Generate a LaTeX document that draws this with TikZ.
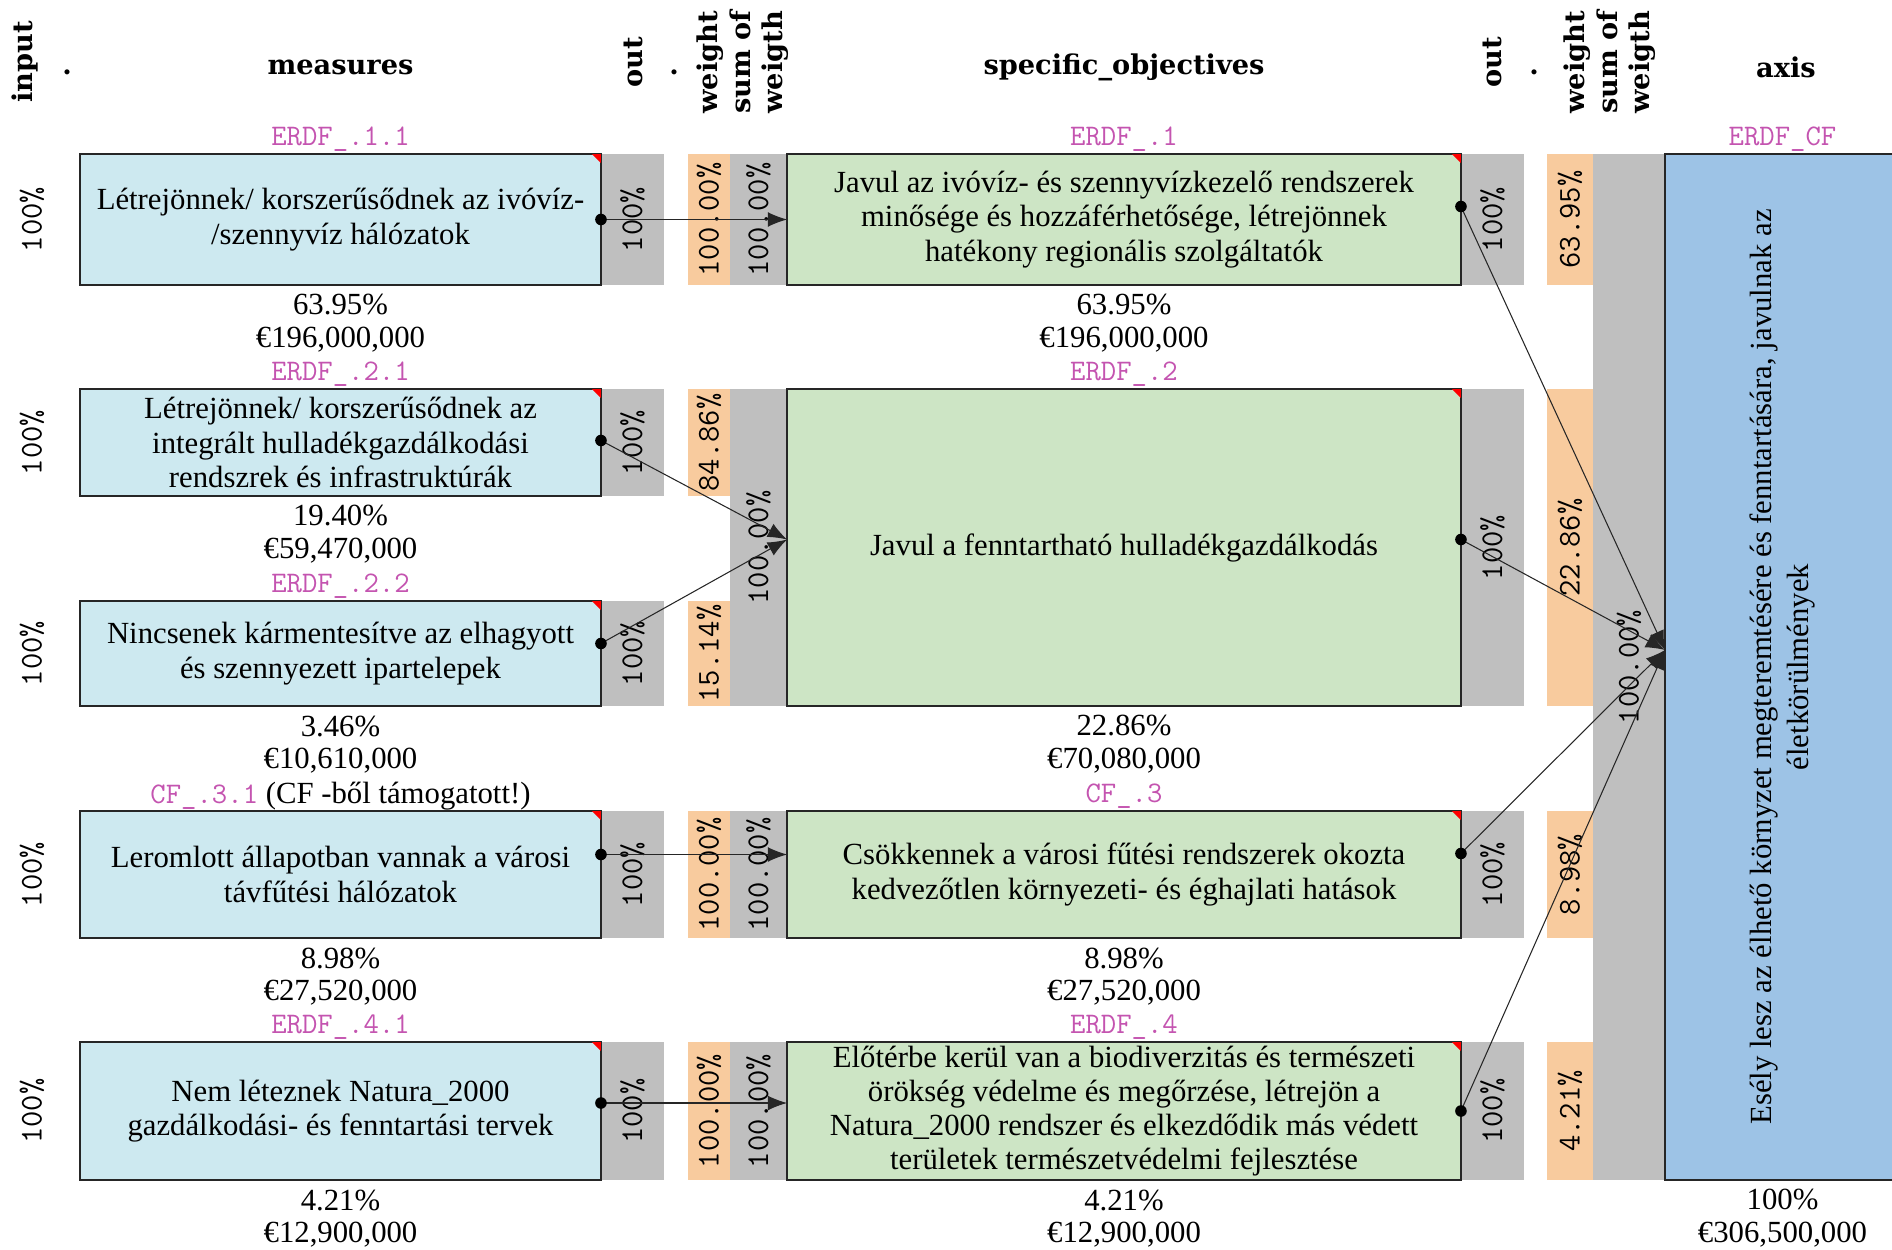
\documentclass[tikz,border=0pt]{standalone}
\usepackage{fontspec}
\setmainfont{Liberation Serif}
\newfontfamily\headfont{DejaVu Serif}
\definecolor{colgray}{RGB}{191,191,191}
\definecolor{wtorange}{RGB}{248,203,158}
\definecolor{measblue}{RGB}{205,233,240}
\definecolor{objgreen}{RGB}{205,229,197}
\definecolor{axisblue}{RGB}{157,195,230}
\definecolor{codepink}{RGB}{196,84,176}
\usetikzlibrary{arrows.meta,calc}

\begin{document}
\begin{tikzpicture}[x=0.02cm, y=-0.02cm,
    boxtxt/.style={font=\fontsize{17.5}{19.5}\selectfont, align=center, draw=black!85, line width=0.7pt, inner sep=0pt, outer sep=0pt},
    measure/.style={boxtxt, fill=measblue, minimum width=10.42cm},
    objective/.style={boxtxt, fill=objgreen, minimum width=13.48cm},
    colval/.style={rotate=90, font=\ttfamily\fontsize{18}{20}\selectfont},
    code/.style={font=\ttfamily\fontsize{17}{19}\selectfont, text=codepink},
    under/.style={font=\fontsize{17.5}{20}\selectfont},
    head/.style={font=\headfont\bfseries\fontsize{15.5}{18.5}\selectfont},
    link/.style={-{Latex[length=11pt,width=8.5pt]}, black!85, line width=0.6pt}]
  \useasboundingbox (0,0) rectangle (1892,1250);

  \node[head, rotate=90] (hinput) at (25,62) {input};
  \node[head] (hdot1) at (67,72) {.};
  \node[head] (hmeas) at (340.5,67) {measures};
  \node[head, rotate=90] (hout1) at (633,62) {out};
  \node[head] (hdot2) at (674,72) {.};
  \node[head, rotate=90, align=left] (hwt1) at (743,62) {weight\\sum of\\weigth};
  \node[head] (hobj) at (1124,67) {specific\_objectives};
  \node[head, rotate=90] (hout2) at (1492.5,62) {out};
  \node[head] (hdot3) at (1534,72) {.};
  \node[head, rotate=90, align=left] (hwt2) at (1610,62) {weight\\sum of\\weigth};
  \node[head] (haxis) at (1786,67) {axis};

  \foreach \n/\ya/\yb/\w in {1/154/285/100.00, 2/389/496/84.86, 3/601/706/15.14, 4/811/938/100.00, 5/1042/1180/100.00}{
    \fill[colgray] (601,\ya) rectangle (664,\yb);
    \fill[wtorange] (688,\ya) rectangle (730,\yb);
    \node[colval] (min\n) at (32,{(\ya+\yb)/2}) {100\%};
    \node[colval] (mout\n) at (632.5,{(\ya+\yb)/2}) {100\%};
    \node[colval] (mw\n) at (709,{(\ya+\yb)/2}) {\w\%};
  }
  \foreach \n/\ya/\yb/\w in {1/154/285/63.95, 2/389/706/22.86, 3/811/938/8.98, 4/1042/1180/4.21}{
    \fill[colgray] (730,\ya) rectangle (787,\yb);
    \fill[colgray] (1461,\ya) rectangle (1524,\yb);
    \fill[wtorange] (1547,\ya) rectangle (1593,\yb);
    \node[colval] (ms\n) at (758.5,{(\ya+\yb)/2}) {100.00\%};
    \node[colval] (oout\n) at (1492.5,{(\ya+\yb)/2}) {100\%};
    \node[colval] (ow\n) at (1570,{(\ya+\yb)/2}) {\w\%};
  }
  \fill[colgray] (1593,154) rectangle (1665,1180);
  \node[colval] (osum) at (1629,667) {100.00\%};

  \node[measure, minimum height=2.62cm] (m1) at (340.5,219.5) {Létrejönnek/ korszerűsődnek az ivóvíz-\\/szennyvíz hálózatok};
  \node[measure, minimum height=2.14cm] (m2) at (340.5,442.5) {Létrejönnek/ korszerűsődnek az\\integrált hulladékgazdálkodási\\rendszrek és infrastruktúrák};
  \node[measure, minimum height=2.10cm] (m3) at (340.5,653.5) {Nincsenek kármentesítve az elhagyott\\és szennyezett ipartelepek};
  \node[measure, minimum height=2.54cm] (m4) at (340.5,874.5) {Leromlott állapotban vannak a városi\\távfűtési hálózatok};
  \node[measure, minimum height=2.76cm] (m5) at (340.5,1111) {Nem léteznek Natura\_2000\\gazdálkodási- és fenntartási tervek};

  \node[objective, minimum height=2.62cm] (o1) at (1124,219.5) {Javul az ivóvíz- és szennyvízkezelő rendszerek\\minősége és hozzáférhetősége, létrejönnek\\hatékony regionális szolgáltatók};
  \node[objective, minimum height=6.34cm] (o2) at (1124,547.5) {Javul a fenntartható hulladékgazdálkodás};
  \node[objective, minimum height=2.54cm] (o3) at (1124,874.5) {Csökkennek a városi fűtési rendszerek okozta\\kedvezőtlen környezeti- és éghajlati hatások};
  \node[objective, minimum height=2.76cm] (o4) at (1124,1111) {Előtérbe kerül van a biodiverzitás és természeti\\örökség védelme és megőrzése, létrejön a\\Natura\_2000 rendszer és elkezdődik más védett\\területek természetvédelmi fejlesztése};

  \node[boxtxt, fill=axisblue, minimum width=4.7cm, minimum height=20.52cm] (ax) at (1782.5,667) {};
  \node[rotate=90, align=center, font=\fontsize{17.5}{21}\selectfont] (axtxt) at (ax.center) {Esély lesz az élhető környzet megteremtésére és fenntartására, javulnak az\\életkörülmények};

  \foreach \b in {m1,m2,m3,m4,m5,o1,o2,o3,o4}{
    \fill[red] (\b.north east) -- ++(-9,0) -- ++(9,9) -- cycle;
  }

  \foreach \b/\c/\p/\e in {m1/ERDF\_.1.1/63.95/{196,000,000}, m2/ERDF\_.2.1/19.40/{59,470,000}, m3/ERDF\_.2.2/3.46/{10,610,000}, m5/ERDF\_.4.1/4.21/{12,900,000}, o1/ERDF\_.1/63.95/{196,000,000}, o2/ERDF\_.2/22.86/{70,080,000}, o3/CF\_.3/8.98/{27,520,000}, o4/ERDF\_.4/4.21/{12,900,000}, ax/ERDF\_CF/100/{306,500,000}}{
    \node[code] (\b code) at ($(\b.north)+(0,-15)$) {\c};
    \node[under] (\b pct) at ($(\b.south)+(0,20)$) {\p\%};
    \node[under] (\b eur) at ($(\b.south)+(0,55)$) {€\e};
  }
  \node[under] (m4code) at ($(m4.north)+(0,-15)$) {{\ttfamily\color{codepink}\fontsize{17}{19}\selectfont CF\_.3.1} (CF -ből támogatott!)};
  \node[under] (m4pct) at ($(m4.south)+(0,20)$) {8.98\%};
  \node[under] (m4eur) at ($(m4.south)+(0,55)$) {€27,520,000};

  \coordinate (o1in) at (o1.west);
  \coordinate (o2in) at ($(o2.west)+(0,-8)$);
  \coordinate (o3in) at ($(o3.west)+(0,-20)$);
  \coordinate (o4in) at ($(o4.west)+(0,-8)$);
  \coordinate (axin) at ($(ax.west)+(0,-17)$);
  \foreach \s/\dy/\d in {m1/0/o1in, m2/-2/o2in, m3/-10/o2in, m4/-20/o3in, m5/-8/o4in, o1/-13/axin, o2/-8/axin, o3/-21/axin, o4/0/axin}{
    \coordinate (\s-dot) at ($(\s.east)+(0,\dy)$);
    \draw[link] (\s-dot) -- (\d);
    \fill (\s-dot) circle (3.3pt);
  }
\end{tikzpicture}
\end{document}
